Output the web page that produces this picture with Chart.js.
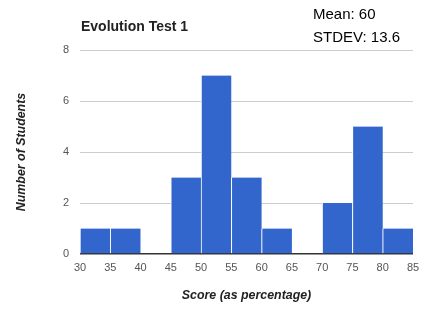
<!DOCTYPE html>
<html><head><meta charset="utf-8">
<script src="https://cdn.jsdelivr.net/npm/chart.js@4/dist/chart.umd.min.js"></script>
<style>html,body{margin:0;padding:0;background:#fff}#wrap{width:433px;height:316px}</style>
</head><body><div id="wrap"><canvas id="c" width="433" height="316"></canvas></div>
<script>
const binStarts = [30, 35, 40, 45, 50, 55, 60, 65, 70, 75, 80];
const binWidth = 5;
const counts = [1, 1, 0, 3, 7, 3, 1, 0, 2, 5, 1];
const chartTitle = 'Evolution Test 1';
const statsLines = ['Mean: 60', 'STDEV: 13.6'];
const xTitle = 'Score (as percentage)';
const yTitle = 'Number of Students';

const points = binStarts.map((s, i) => ({x: s + binWidth / 2, y: counts[i]}));

const textPlugin = {
  id: 'texts',
  afterDraw(chart) {
    const ctx = chart.ctx;
    ctx.save();
    ctx.textBaseline = 'alphabetic';
    ctx.textAlign = 'left';
    ctx.fillStyle = '#222';
    ctx.font = 'bold 14px "Liberation Sans", Arial, sans-serif';
    ctx.fillText(chartTitle, chart.chartArea.left + 1, 31);
    ctx.fillStyle = '#000';
    ctx.font = '15px "Liberation Sans", Arial, sans-serif';
    ctx.fillText(statsLines[0], 313, 19);
    ctx.fillText(statsLines[1], 313, 42);
    ctx.restore();
  }
};

new Chart(document.getElementById('c'), {
  type: 'bar',
  data: {
    datasets: [{
      data: points,
      backgroundColor: '#3366cc',
      borderColor: '#ffffff',
      borderWidth: {left: 1, right: 0, top: 0, bottom: 0},
      borderSkipped: false,
      barPercentage: 1,
      categoryPercentage: 1
    }]
  },
  options: {
    responsive: false,
    animation: false,
    layout: {padding: {top: 50, right: 20, left: 0, bottom: 0}},
    plugins: {legend: {display: false}, tooltip: {enabled: false}, title: {display: false}},
    scales: {
      x: {
        type: 'linear',
        min: 30, max: 85,
        offset: false,
        grid: {display: false, drawTicks: false},
        border: {display: false},
        ticks: {stepSize: 5, padding: 7, color: '#555', font: {family: '"Liberation Sans", Arial, sans-serif', size: 11}, maxRotation: 0, autoSkip: false},
        title: {display: true, text: xTitle, color: '#222', font: {family: '"Liberation Sans", Arial, sans-serif', size: 12.4, style: 'italic', weight: 'bold'}, padding: {top: 0, bottom: 12.6}},
        afterFit(s) { s.height = 62; }
      },
      y: {
        min: 0, max: 8,
        grid: {drawTicks: false, color: ctx => ctx.tick && ctx.tick.value === 0 ? '#333' : '#cccccc', lineWidth: ctx => ctx.tick && ctx.tick.value === 0 ? 1.5 : 1},
        border: {display: false},
        ticks: {stepSize: 2, padding: 11, color: '#555', font: {family: '"Liberation Sans", Arial, sans-serif', size: 11}},
        title: {display: true, text: yTitle, color: '#222', font: {family: '"Liberation Sans", Arial, sans-serif', size: 12.4, style: 'italic', weight: 'bold'}, padding: {top: 14, bottom: 0}},
        afterFit(s) { s.width = 80; }
      }
    }
  },
  plugins: [textPlugin]
});
</script></body></html>
